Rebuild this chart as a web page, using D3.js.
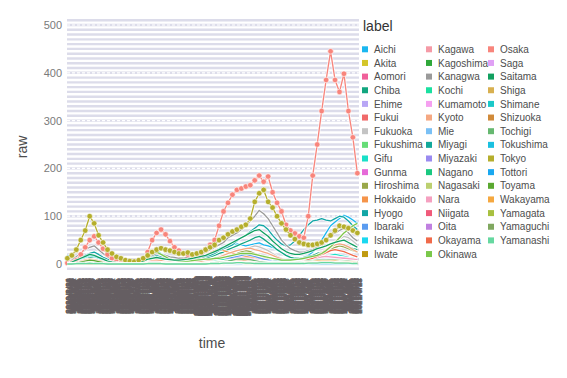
<!DOCTYPE html>
<html>
<head>
<meta charset="utf-8">
<script src="https://cdn.jsdelivr.net/npm/d3@7.9.0/dist/d3.min.js"></script>
<style>
  html, body { margin: 0; padding: 0; background: #fff; }
  svg { display: block; font-family: "Liberation Sans", Arial, sans-serif; }
</style>
</head>
<body>
<svg id="chart" width="567" height="378"></svg>
<script>
// prefectures as listed in the legend (spelling kept as in the source)
const prefectures = ["Aichi","Akita","Aomori","Chiba","Ehime","Fukui","Fukuoka","Fukushima","Gifu","Gunma",
  "Hiroshima","Hokkaido","Hyogo","Ibaraki","Ishikawa","Iwate","Kagawa","Kagoshima","Kanagwa","Kochi",
  "Kumamoto","Kyoto","Mie","Miyagi","Miyazaki","Nagano","Nagasaki","Nara","Niigata","Oita",
  "Okayama","Okinawa","Osaka","Saga","Saitama","Shiga","Shimane","Shizuoka","Tochigi","Tokushima",
  "Tokyo","Tottori","Toyama","Wakayama","Yamagata","Yamaguchi","Yamanashi"];

const colors = ["#1ab7f0","#d4c62a","#f0609a","#12a67f","#b8a6f5","#f06a6a","#c4c4c4","#66dd77","#19e0c8","#e66ad8",
  "#9aa84a","#f5944a","#12a6a6","#5a9cf0","#1ad8f0","#c09a10","#f59aa6","#2fa83a","#9a9a9a","#1ae0a0",
  "#f5a0f0","#f5a882","#7ac0f5","#12a89a","#9a8af0","#1ac880","#bcd070","#f5a0c0","#f05a7a","#c080e0",
  "#f06a4a","#7ac84a","#f8857c","#e0a0f5","#12a060","#d8b050","#1ac8c8","#d08a3a","#66b870","#1ac0e0",
  "#b5ae2c","#1aa8f0","#5aa830","#f5a840","#a8c040","#80a860","#66d8a0"];

// categorical time axis: one label per day
const startDay = new Date(2020, 2, 23);
const dayCount = 458;
const days = d3.timeDay.range(startDay, d3.timeDay.offset(startDay, dayCount));
const timeLabels = days.map(d3.timeFormat("%Y/%-m/%-d"));
const sampleStep = 7;

const yTicks = [0, 100, 200, 300, 400, 500];

// weekly values per prefecture
const Aichi = [18,15,12,10,12,15,18,15,10,6, 4,3,2,2,2,3,5,10,20,28, 28,22,18,14,12,10,9,10,12,14, 15,18,22,28,32,36,38,40,42,40, 38,40,42,44,40,38,35,30,24,18, 14,12,12,14,18,25,35,50,65,80, 88,95,102,98,92,85];
const Akita = [0,0,0,0,0,0,0,0,0,0, 0,0,0,0,0,0,0,0,0,0, 1,0,0,0,0,0,0,0,0,0, 0,0,1,1,1,2,2,3,2,2, 1,1,1,0,0,0,0,0,0,0, 0,1,1,2,2,3,3,4,4,3, 3,2,2,1,1,1];
const Aomori = [0,0,0,0,0,0,0,0,0,0, 0,0,0,0,0,0,0,0,0,0, 0,0,0,0,0,0,0,0,0,0, 1,1,2,3,3,4,3,2,2,1, 1,1,1,1,0,0,0,0,0,0, 0,0,0,1,1,2,2,3,3,4, 4,3,3,2,2,2];
const Chiba = [1,2,4,6,10,14,15,12,8,5, 3,2,1,1,1,2,3,5,8,10, 12,11,9,8,7,6,6,7,8,9, 10,12,15,18,22,25,30,34,38,42, 46,50,55,58,52,45,38,30,24,18, 14,12,12,14,16,18,22,25,28,32, 35,38,40,36,32,30];
const Ehime = [0,0,0,1,1,1,1,0,0,0, 0,0,0,0,0,0,0,0,0,0, 1,1,0,0,0,0,0,0,0,0, 0,0,1,1,2,2,3,3,2,2, 1,1,1,1,1,0,0,0,0,0, 0,0,1,1,2,3,4,5,5,4, 4,3,3,2,2,2];
const Fukui = [0,1,2,3,4,5,4,3,2,1, 1,0,0,0,0,0,0,0,0,0, 1,1,0,0,0,0,0,0,0,0, 0,0,0,0,0,1,1,1,1,1, 1,2,2,1,1,1,0,0,0,0, 0,0,0,0,1,1,2,2,3,3, 3,2,2,2,1,1];
const Fukuoka = [1,2,3,5,8,10,8,6,4,3, 2,2,1,1,1,2,4,8,14,20, 22,18,14,10,8,6,5,5,5,6, 7,8,10,12,15,18,22,25,28,30, 32,35,38,36,32,28,22,16,12,9, 7,6,6,7,8,10,14,20,28,36, 45,52,58,55,48,40];
const Fukushima = [0,0,0,1,1,2,2,1,1,0, 0,0,0,0,0,0,0,0,0,0, 0,0,0,0,0,0,0,0,0,0, 0,1,1,2,2,3,4,5,6,6, 5,4,3,3,2,2,2,2,2,1, 1,2,2,3,4,5,6,7,7,6, 5,5,4,4,3,3];
const Gifu = [0,1,3,5,7,8,7,5,3,2, 1,1,0,0,0,0,1,2,3,4, 4,3,2,2,1,1,1,1,1,1, 1,2,3,4,5,6,8,10,11,12, 11,10,8,6,5,4,3,2,2,2, 2,3,4,6,8,10,12,14,16,18, 20,18,16,14,12,10];
const Gunma = [0,0,1,2,3,3,2,2,1,0, 0,0,0,0,0,0,0,1,2,3, 3,2,2,1,1,1,1,1,2,2, 3,3,4,5,6,8,10,12,14,15, 14,12,10,8,6,5,4,3,3,3, 4,5,6,7,8,9,10,12,13,12, 11,10,9,8,7,6];
const Hiroshima = [0,0,0,1,1,2,2,1,1,0, 0,0,0,0,0,0,0,1,1,2, 2,2,1,1,1,1,1,1,1,1, 1,2,2,3,5,8,12,18,22,26, 28,26,22,18,14,10,7,5,4,3, 3,3,4,5,7,10,14,18,24,30, 35,38,36,32,28,25];
const Hokkaido = [2,4,6,8,10,9,8,6,4,3, 2,1,1,1,1,1,1,2,3,4, 4,3,3,2,2,3,4,5,6,8, 12,18,24,28,30,28,25,22,20,18, 16,15,14,12,10,8,6,5,4,4, 3,3,4,5,6,8,10,15,25,35, 45,55,65,72,68,60];
const Hyogo = [5,8,10,14,18,22,25,20,14,10, 6,4,3,2,2,3,5,8,12,16, 18,15,12,10,8,8,8,9,10,12, 14,16,18,22,28,32,36,40,48,55, 60,68,75,82,80,72,60,50,42,38, 40,48,60,72,82,90,92,95,92,90, 95,100,98,90,80,72];
const Ibaraki = [0,1,2,3,4,5,5,4,3,2, 1,1,1,0,0,0,1,2,3,4, 5,4,3,3,2,2,2,3,3,4, 4,5,6,7,8,10,12,14,16,18, 20,18,16,13,10,8,6,5,5,5, 6,7,8,9,10,12,14,15,16,15, 14,13,12,11,10,9];
const Ishikawa = [0,2,5,10,14,18,16,12,8,5, 3,2,1,1,0,0,0,1,2,3, 3,2,2,1,1,1,1,1,1,1, 1,1,2,2,3,4,5,6,7,8, 8,7,6,5,4,3,3,2,2,2, 2,3,4,5,7,9,11,13,14,13, 12,11,10,9,8,7];
const Iwate = [0,0,0,0,0,0,0,0,0,0, 0,0,0,0,0,0,0,0,0,0, 0,0,0,0,0,0,0,0,0,0, 0,1,1,2,2,3,4,5,5,4, 3,3,2,2,1,1,1,1,0,0, 0,0,1,1,2,2,3,4,5,6, 6,5,5,4,4,3];
const Kagawa = [0,0,0,1,1,1,1,0,0,0, 0,0,0,0,0,0,0,0,1,1, 1,1,0,0,0,0,0,0,0,0, 0,0,1,1,1,2,2,3,3,2, 2,2,1,1,1,1,0,0,0,0, 0,1,1,1,2,2,3,4,4,3, 3,3,2,2,2,1];
const Kagoshima = [0,0,0,0,0,0,0,0,0,0, 0,0,0,0,0,0,1,2,4,6, 7,6,4,3,2,2,1,1,1,1, 1,1,2,3,3,4,5,6,6,5, 5,4,3,3,2,2,2,1,1,1, 1,1,2,2,3,4,5,6,7,8, 8,7,7,6,5,5];
const Kanagwa = [5,8,15,22,30,35,38,30,22,15, 10,8,5,4,3,4,6,10,15,18, 22,20,18,15,14,12,12,14,15,18, 20,25,30,35,40,45,55,60,65,72, 80,90,100,112,105,95,80,65,50,40, 32,28,25,25,28,30,35,42,50,60, 65,70,75,65,55,48];
const Kochi = [0,1,1,2,3,3,3,2,1,1, 0,0,0,0,0,0,0,0,0,0, 0,0,0,0,0,0,0,0,1,1, 2,3,5,7,8,9,8,7,6,5, 4,3,3,2,2,1,1,1,1,1, 1,1,1,1,1,2,2,3,3,3, 2,2,2,2,1,1];
const Kumamoto = [0,0,0,1,1,1,1,1,0,0, 0,0,0,0,0,0,1,2,4,6, 7,6,5,3,2,2,1,1,1,1, 1,1,2,2,3,4,5,6,7,8, 8,7,6,5,4,3,2,2,2,2, 2,2,3,4,5,6,8,10,12,14, 15,14,13,12,10,9];
const Kyoto = [1,2,4,6,8,10,9,7,5,3, 2,1,1,1,1,1,2,3,5,7, 8,7,5,4,3,3,3,3,4,4, 5,6,8,10,14,18,22,25,28,30, 32,33,30,28,25,22,18,14,10,8, 6,5,5,6,8,12,18,24,30,36, 40,42,40,36,30,25];
const Mie = [0,0,1,1,2,2,2,1,1,0, 0,0,0,0,0,0,1,1,2,3, 3,2,2,1,1,1,1,1,1,1, 1,1,2,2,3,4,4,5,6,6, 5,5,4,3,2,2,2,2,2,2, 2,2,3,4,5,6,8,10,11,10, 9,8,8,7,6,5];
const Miyagi = [0,0,0,0,1,1,1,1,0,0, 0,0,0,0,0,0,0,0,1,1, 1,1,1,0,0,0,0,0,0,1, 1,1,2,3,4,5,6,7,8,8, 7,6,5,4,4,4,5,6,7,8, 9,10,11,10,9,8,7,6,6,5, 5,4,4,4,3,3];
const Miyazaki = [0,0,0,0,0,0,0,0,0,0, 0,0,0,0,0,0,0,1,2,3, 3,2,2,1,1,1,1,1,1,1, 1,1,1,2,3,4,5,6,7,6, 5,4,3,3,2,2,1,1,1,1, 1,1,1,1,2,2,3,3,4,4, 5,4,4,3,3,3];
const Nagano = [0,0,0,1,1,1,1,1,0,0, 0,0,0,0,0,0,0,1,1,1, 1,1,1,0,0,0,0,0,1,1, 1,2,2,3,4,5,6,7,7,6, 5,4,4,3,3,2,2,2,2,2, 2,2,3,3,4,5,6,7,8,8, 7,7,6,6,5,5];
const Nagasaki = [0,0,0,0,0,0,0,0,0,0, 0,0,0,0,0,0,0,1,2,3, 3,2,2,1,1,1,1,1,1,1, 1,1,1,2,2,3,3,4,4,3, 3,2,2,2,1,1,1,1,1,1, 1,1,1,2,2,3,4,5,5,6, 6,5,5,4,4,3];
const Nara = [0,0,1,2,3,3,3,2,1,1, 0,0,0,0,0,0,1,2,3,4, 4,3,2,2,1,1,1,1,1,1, 1,2,3,4,5,6,7,8,9,10, 10,9,8,6,5,4,3,3,3,3, 3,4,5,7,9,11,13,15,16,15, 14,13,12,11,10,9];
const Niigata = [0,0,0,0,0,1,1,1,0,0, 0,0,0,0,0,0,0,0,0,0, 0,0,0,0,0,0,0,0,0,0, 0,1,1,2,2,3,3,4,4,3, 3,2,2,2,1,1,1,1,1,1, 1,1,1,2,2,2,3,3,4,4, 4,3,3,3,2,2];
const Oita = [0,0,0,0,0,0,0,0,0,0, 0,0,0,0,0,0,0,0,1,1, 1,1,0,0,0,0,0,0,0,0, 0,1,1,1,2,2,3,3,3,2, 2,2,1,1,1,1,1,1,1,1, 1,1,1,2,2,3,4,5,6,6, 6,5,5,4,4,3];
const Okayama = [0,0,0,0,1,1,1,0,0,0, 0,0,0,0,0,0,0,1,1,1, 1,1,0,0,0,0,0,0,0,1, 1,1,2,3,4,5,6,7,8,8, 7,6,5,4,3,3,2,2,2,2, 2,3,4,6,9,12,16,20,24,28, 30,28,26,22,18,15];
const Okinawa = [0,0,1,2,3,4,3,2,1,1, 0,0,0,0,0,1,3,8,15,22, 25,20,15,10,8,6,6,6,7,8, 9,10,10,12,12,14,16,18,20,22, 22,22,20,18,16,14,12,10,8,8, 8,9,10,12,14,16,18,22,28,36, 45,55,65,72,80,85];
const Osaka = [2,3,8,20,35,50,58,45,32,20, 12,6,3,2,2,3,5,10,25,50, 65,72,62,48,35,28,22,20,18,18, 20,30,40,50,80,110,128,145,155,158, 162,165,175,185,172,183,150,128,110,82, 70,64,58,55,100,185,250,320,385,445, 385,360,398,320,265,190];
const Saga = [0,0,0,0,0,0,0,0,0,0, 0,0,0,0,0,0,0,0,1,1, 1,1,0,0,0,0,0,0,0,0, 0,0,0,1,1,1,2,2,2,2, 1,1,1,1,0,0,0,0,0,0, 0,0,1,1,1,2,2,3,3,3, 3,2,2,2,1,1];
const Saitama = [2,4,8,12,16,20,18,14,10,6, 4,3,2,2,2,3,4,6,10,12, 14,12,10,9,8,8,9,10,12,14, 16,18,22,26,30,35,40,45,50,55, 60,65,70,72,65,58,48,40,32,26, 22,20,20,22,25,28,32,35,38,42, 45,48,50,45,40,35];
const Shiga = [0,0,0,1,1,1,1,0,0,0, 0,0,0,0,0,0,0,1,1,2, 2,1,1,1,0,0,0,0,0,1, 1,1,2,2,3,4,5,5,6,5, 5,4,3,3,2,2,1,1,1,1, 1,2,2,3,4,5,6,7,8,8, 7,7,6,5,5,4];
const Shimane = [0,0,0,0,0,0,0,0,0,0, 0,0,0,0,0,0,0,0,0,0, 0,0,0,0,0,0,0,0,0,0, 0,0,0,0,0,1,1,1,1,0, 0,0,0,0,0,0,0,0,0,0, 0,0,0,0,0,1,1,1,1,1, 1,1,0,0,0,0];
const Shizuoka = [0,0,0,1,1,1,1,0,0,0, 0,0,0,0,0,0,0,1,1,2, 2,2,1,1,1,1,1,1,1,1, 1,2,2,3,4,5,6,7,8,8, 7,6,5,4,3,3,2,2,2,2, 2,2,3,4,5,6,7,8,9,9, 8,8,7,6,6,5];
const Tochigi = [0,0,0,1,1,1,1,1,0,0, 0,0,0,0,0,0,0,1,1,1, 1,1,1,1,0,0,0,0,1,1, 1,2,2,3,4,5,6,8,10,11, 10,9,7,5,4,3,3,2,2,2, 2,3,4,5,6,7,8,9,9,8, 8,7,7,6,5,5];
const Tokushima = [0,0,0,0,0,0,0,0,0,0, 0,0,0,0,0,0,0,0,0,0, 0,0,0,0,0,0,0,0,0,0, 0,0,1,1,1,2,2,2,2,2, 1,1,1,1,1,1,1,1,1,1, 1,2,2,3,3,4,4,5,5,4, 4,4,3,3,3,2];
const Tokyo = [12,18,30,50,70,100,85,60,45,30, 22,15,12,8,6,5,8,12,18,25, 30,33,30,28,25,22,22,24,20,22, 25,30,35,40,50,55,62,68,72,78, 82,95,130,148,155,130,118,100,85,72, 60,52,45,42,40,40,42,45,50,60, 70,80,78,75,70,65];
const Tottori = [0,0,0,0,0,0,0,0,0,0, 0,0,0,0,0,0,0,0,0,0, 0,0,0,0,0,0,0,0,0,0, 0,0,0,0,0,0,1,1,1,1, 1,1,0,0,0,0,0,0,0,0, 0,0,0,0,1,1,1,1,1,1, 1,1,1,1,0,0];
const Toyama = [0,1,2,4,6,8,7,5,3,2, 1,1,0,0,0,0,0,0,0,1, 1,1,1,0,0,0,0,0,0,0, 0,1,1,1,2,2,3,3,3,3, 2,2,2,1,1,1,1,1,1,1, 1,1,2,2,3,3,4,5,5,5, 4,4,3,3,3,2];
const Wakayama = [0,0,1,1,2,2,1,1,0,0, 0,0,0,0,0,0,0,1,1,1, 1,1,1,0,0,0,0,0,0,0, 1,1,1,2,2,2,3,3,4,4, 3,3,3,2,2,2,1,1,1,1, 1,2,2,3,4,5,6,7,7,6, 6,5,5,4,4,3];
const Yamagata = [0,0,0,0,0,0,0,0,0,0, 0,0,0,0,0,0,0,0,0,0, 0,0,0,0,0,0,0,0,0,0, 0,0,0,1,1,1,2,2,2,2, 1,1,1,1,1,1,1,1,1,1, 1,1,1,2,2,3,3,4,4,3, 3,3,2,2,2,1];
const Yamaguchi = [0,0,0,0,0,0,0,0,0,0, 0,0,0,0,0,0,0,0,0,0, 0,0,0,0,0,0,0,0,0,0, 0,0,1,1,1,2,2,2,3,3, 2,2,2,1,1,1,1,1,1,1, 1,1,1,2,2,3,3,4,4,4, 3,3,3,2,2,2];
const Yamanashi = [0,0,1,1,1,2,1,1,1,0, 0,0,0,0,0,0,0,0,1,1, 1,1,0,0,0,0,0,0,0,0, 0,0,1,1,1,2,2,2,3,3, 2,2,1,1,1,1,1,1,1,1, 1,1,1,1,2,2,2,3,3,3, 2,2,2,2,1,1];

// prefectures drawn with point markers on top of the line
const markedPrefectures = ["Osaka", "Tokyo"];

const valuesByPrefecture = new Map([
  ["Aichi", Aichi], ["Akita", Akita], ["Aomori", Aomori], ["Chiba", Chiba], ["Ehime", Ehime],
  ["Fukui", Fukui], ["Fukuoka", Fukuoka], ["Fukushima", Fukushima], ["Gifu", Gifu], ["Gunma", Gunma],
  ["Hiroshima", Hiroshima], ["Hokkaido", Hokkaido], ["Hyogo", Hyogo], ["Ibaraki", Ibaraki], ["Ishikawa", Ishikawa],
  ["Iwate", Iwate], ["Kagawa", Kagawa], ["Kagoshima", Kagoshima], ["Kanagwa", Kanagwa], ["Kochi", Kochi],
  ["Kumamoto", Kumamoto], ["Kyoto", Kyoto], ["Mie", Mie], ["Miyagi", Miyagi], ["Miyazaki", Miyazaki],
  ["Nagano", Nagano], ["Nagasaki", Nagasaki], ["Nara", Nara], ["Niigata", Niigata], ["Oita", Oita],
  ["Okayama", Okayama], ["Okinawa", Okinawa], ["Osaka", Osaka], ["Saga", Saga], ["Saitama", Saitama],
  ["Shiga", Shiga], ["Shimane", Shimane], ["Shizuoka", Shizuoka], ["Tochigi", Tochigi], ["Tokushima", Tokushima],
  ["Tokyo", Tokyo], ["Tottori", Tottori], ["Toyama", Toyama], ["Wakayama", Wakayama], ["Yamagata", Yamagata],
  ["Yamaguchi", Yamaguchi], ["Yamanashi", Yamanashi]
]);

const series = prefectures.map((name, i) => ({
  name,
  color: colors[i],
  points: valuesByPrefecture.get(name).map((v, k) => ({ label: timeLabels[k * sampleStep], value: v }))
}));

// layout
const panel = { left: 67, right: 359, top: 18, bottom: 270 };
const svg = d3.select('#chart');

const x = d3.scalePoint().domain(timeLabels).range([panel.left, panel.right]).padding(0.6);
const y = d3.scaleLinear().domain([0, 500]).range([264, 25]);

// panel background with dense horizontal stripes
svg.append('rect')
  .attr('x', panel.left).attr('y', panel.top)
  .attr('width', panel.right - panel.left).attr('height', panel.bottom - panel.top)
  .attr('fill', '#fff');

svg.append('g')
  .selectAll('line')
  .data(d3.range(-10, 520, 10))
  .join('line')
  .attr('x1', panel.left).attr('x2', panel.right)
  .attr('y1', d => y(d)).attr('y2', d => y(d))
  .attr('stroke', '#dcdcea')
  .attr('stroke-width', 2.4);

svg.append('g')
  .selectAll('line')
  .data(yTicks)
  .join('line')
  .attr('x1', panel.left).attr('x2', panel.right)
  .attr('y1', d => y(d)).attr('y2', d => y(d))
  .attr('stroke', '#fff')
  .attr('stroke-width', 1.2)
  .attr('stroke-dasharray', '3,2');

// lines
const line = d3.line()
  .x(d => x(d.label))
  .y(d => y(d.value));

const seriesG = svg.append('g');
series.forEach(s => {
  seriesG.append('path')
    .attr('d', line(s.points))
    .attr('fill', 'none')
    .attr('stroke', '#fff')
    .attr('stroke-opacity', 0.75)
    .attr('stroke-width', 3)
    .attr('stroke-linejoin', 'round');
  seriesG.append('path')
    .attr('d', line(s.points))
    .attr('fill', 'none')
    .attr('stroke', s.color)
    .attr('stroke-width', 1.3)
    .attr('stroke-linejoin', 'round');
  if (markedPrefectures.includes(s.name)) {
    seriesG.append('g')
      .selectAll('circle')
      .data(s.points)
      .join('circle')
      .attr('cx', d => x(d.label))
      .attr('cy', d => y(d.value))
      .attr('r', 2.8)
      .attr('fill', s.color)
      .attr('stroke', '#fff')
      .attr('stroke-width', 0.6);
  }
});

// y axis
const yAxis = svg.append('g')
  .attr('transform', `translate(${panel.left},0)`)
  .call(d3.axisLeft(y).tickValues(yTicks).tickSize(0).tickPadding(5));
yAxis.select('.domain').remove();
yAxis.selectAll('text')
  .attr('font-size', 11)
  .attr('font-family', '"Liberation Sans", Arial, sans-serif')
  .attr('fill', '#7a7a7a');

// x axis: every day labelled, rotated, overlapping into a block
const xAxis = svg.append('g')
  .attr('transform', `translate(0,${panel.bottom})`)
  .call(d3.axisBottom(x).tickSize(0));
xAxis.select('.domain').remove();
xAxis.selectAll('text')
  .attr('y', 0)
  .attr('dy', '0.35em')
  .attr('transform', 'translate(0,26) rotate(-90)')
  .attr('text-anchor', 'middle')
  .attr('font-size', 8)
  .attr('font-family', '"Liberation Sans", Arial, sans-serif')
  .attr('fill', '#655e62')
  .attr('stroke', '#655e62')
  .attr('stroke-width', 0.4);

// axis titles
svg.append('text')
  .attr('x', 212).attr('y', 348)
  .attr('text-anchor', 'middle')
  .attr('font-size', 14)
  .attr('fill', '#4d4d4d')
  .text('time');

svg.append('text')
  .attr('transform', 'translate(27,147) rotate(-90)')
  .attr('text-anchor', 'middle')
  .attr('font-size', 14)
  .attr('fill', '#4d4d4d')
  .text('raw');

// legend
const legend = svg.append('g');
legend.append('text')
  .attr('x', 363).attr('y', 31)
  .attr('font-size', 14)
  .attr('fill', '#333')
  .text('label');

const rowsPerCol = 16;
const colX = [365, 429, 491];
const items = legend.selectAll('g.item')
  .data(series)
  .join('g')
  .attr('class', 'item')
  .attr('transform', (d, i) => `translate(${colX[Math.floor(i / rowsPerCol)]},${49.3 + (i % rowsPerCol) * 13.65})`);

items.append('rect')
  .attr('x', -3).attr('y', -3)
  .attr('width', 6).attr('height', 6)
  .attr('fill', d => d.color);

items.append('text')
  .attr('x', 9).attr('y', 3.6)
  .attr('font-size', 10)
  .attr('fill', '#4d4d4d')
  .text(d => d.name);
</script>
</body>
</html>
